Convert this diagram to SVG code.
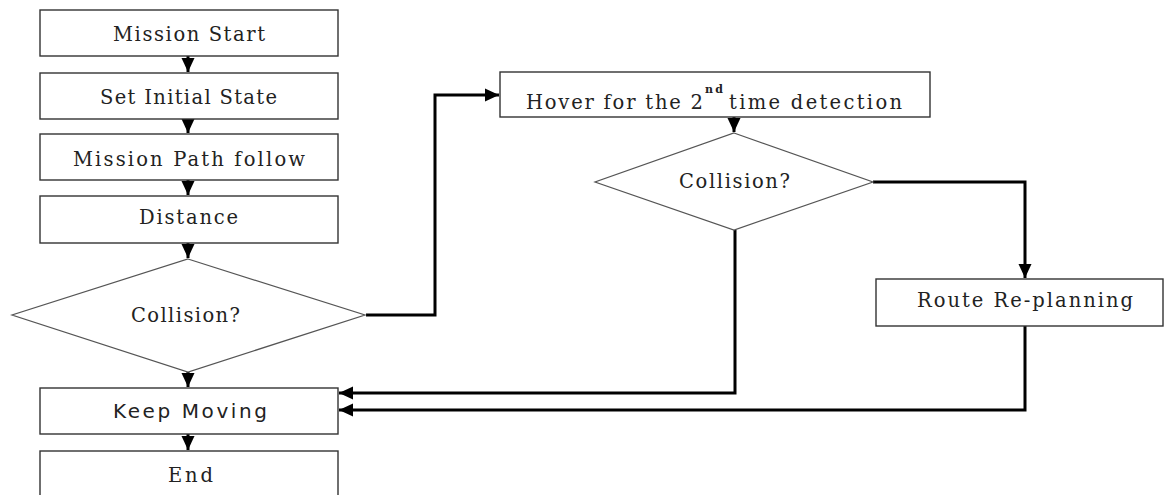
<svg xmlns="http://www.w3.org/2000/svg" width="1166" height="495" viewBox="0 0 1166 495">
  <style>
    .box { fill: #fff; stroke: #333; stroke-width: 1.4; }
    .dia { fill: #fff; stroke: #555; stroke-width: 1.2; }
    .lbl { font-family: "DejaVu Serif", "Liberation Serif", serif; font-size: 19.5px; fill: #222; }
    .sans { font-family: "DejaVu Sans", "Liberation Sans", sans-serif; font-size: 20px; fill: #222; }
    .sup { font-family: "DejaVu Serif", serif; font-size: 11px; font-weight: bold; fill: #222; }
    .conn { fill: none; stroke: #000; stroke-width: 3; }
  </style>
  <defs>
    <marker id="arrow" markerUnits="userSpaceOnUse" markerWidth="15" markerHeight="14" refX="14" refY="7" orient="auto">
      <path d="M0,0.5 L14,7 L0,13.5 z" fill="#000"/>
    </marker>
  </defs>
  <rect width="1166" height="495" fill="#fff"/>

  <g id="connectors">
    <path class="conn" d="M188,56 V72" marker-end="url(#arrow)"/>
    <path class="conn" d="M188,119 V133" marker-end="url(#arrow)"/>
    <path class="conn" d="M188,180 V195" marker-end="url(#arrow)"/>
    <path class="conn" d="M188,243 V258" marker-end="url(#arrow)"/>
    <path class="conn" d="M188,372 V387" marker-end="url(#arrow)"/>
    <path class="conn" d="M188,434 V450" marker-end="url(#arrow)"/>
    <path class="conn" d="M366,315 H435 V95 H499" marker-end="url(#arrow)"/>
    <path class="conn" d="M734,117 V132" marker-end="url(#arrow)"/>
    <path class="conn" d="M873,182 H1025 V278" marker-end="url(#arrow)"/>
    <path class="conn" d="M735,230 V393 H339" marker-end="url(#arrow)"/>
    <path class="conn" d="M1025,326 V410 H339" marker-end="url(#arrow)"/>
  </g>

  <g id="mission-start">
    <rect class="box" x="40" y="10" width="298" height="46"/>
    <text class="lbl" x="113" y="41" textLength="152" lengthAdjust="spacing">Mission Start</text>
  </g>
  <g id="set-initial-state">
    <rect class="box" x="40" y="73" width="298" height="46"/>
    <text class="lbl" x="100" y="104" textLength="177" lengthAdjust="spacing">Set Initial State</text>
  </g>
  <g id="mission-path-follow">
    <rect class="box" x="40" y="134" width="298" height="46"/>
    <text class="lbl" x="73" y="166" textLength="232" lengthAdjust="spacing">Mission Path follow</text>
  </g>
  <g id="distance">
    <rect class="box" x="40" y="196" width="298" height="47"/>
    <text class="lbl" x="139" y="224" textLength="99" lengthAdjust="spacing">Distance</text>
  </g>
  <g id="collision-1">
    <polygon class="dia" points="188,259 365,315 188,372 12,315"/>
    <text class="lbl" x="131" y="322" textLength="109" lengthAdjust="spacing">Collision?</text>
  </g>
  <g id="keep-moving">
    <rect class="box" x="40" y="388" width="298" height="46"/>
    <text class="sans" x="113" y="418" textLength="154" lengthAdjust="spacing">Keep Moving</text>
  </g>
  <g id="end">
    <rect class="box" x="40" y="451" width="298" height="50"/>
    <text class="lbl" x="168" y="482" textLength="45" lengthAdjust="spacing">End</text>
  </g>
  <g id="hover">
    <rect class="box" x="500" y="72" width="430" height="45"/>
    <text class="lbl" x="526" y="109" textLength="177" lengthAdjust="spacing">Hover for the 2</text>
    <text class="sup" x="705" y="93" textLength="18" lengthAdjust="spacing">nd</text>
    <text class="lbl" x="729" y="109" textLength="173" lengthAdjust="spacing">time detection</text>
  </g>
  <g id="collision-2">
    <polygon class="dia" points="734,133 873,182 734,230 595,182"/>
    <text class="lbl" x="679" y="188" textLength="111" lengthAdjust="spacing">Collision?</text>
  </g>
  <g id="route-replanning">
    <rect class="box" x="876" y="279" width="287" height="47"/>
    <text class="lbl" x="917" y="307" textLength="216" lengthAdjust="spacing">Route Re-planning</text>
  </g>
</svg>
